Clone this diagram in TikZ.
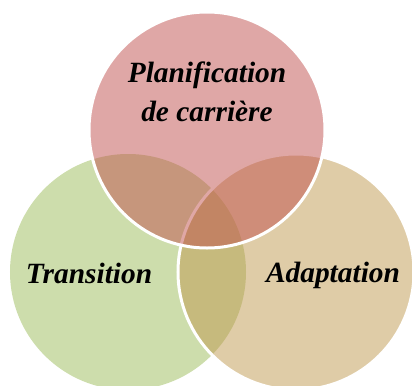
\documentclass[tikz,border=0pt]{standalone}
\usepackage{fontspec}
\setmainfont{Liberation Serif}
\definecolor{cred}{RGB}{192,80,77}
\definecolor{cgreen}{RGB}{155,187,89}
\definecolor{ctan}{RGB}{191,153,79}
\tikzset{
  venn/.style={circle, minimum size=236bp, inner sep=0pt, fill opacity=0.5, draw opacity=1, line width=3bp},
  lbl/.style={font=\fontsize{29.5}{40}\selectfont\bfseries\itshape, text=black, align=center, inner sep=0pt, anchor=base}
}
\begin{document}
\begin{tikzpicture}[x=1bp,y=-1bp]
\useasboundingbox (0,0) rectangle (412,386);
\node[venn, fill=cgreen] (green) at (128,272) {};
\node[venn, fill=ctan, draw=white] (tan) at (296,272) {};
\node[venn, fill=cred, draw=white] (red) at (207,130) {};
\node[lbl] (t1) at (207,82) {Planification};
\node[lbl] (t2) at (207,121) {de carrière};
\node[lbl] (t3) at (89,283) {Transition};
\node[lbl] (t4) at (333,282) {Adaptation};
\end{tikzpicture}
\end{document}
